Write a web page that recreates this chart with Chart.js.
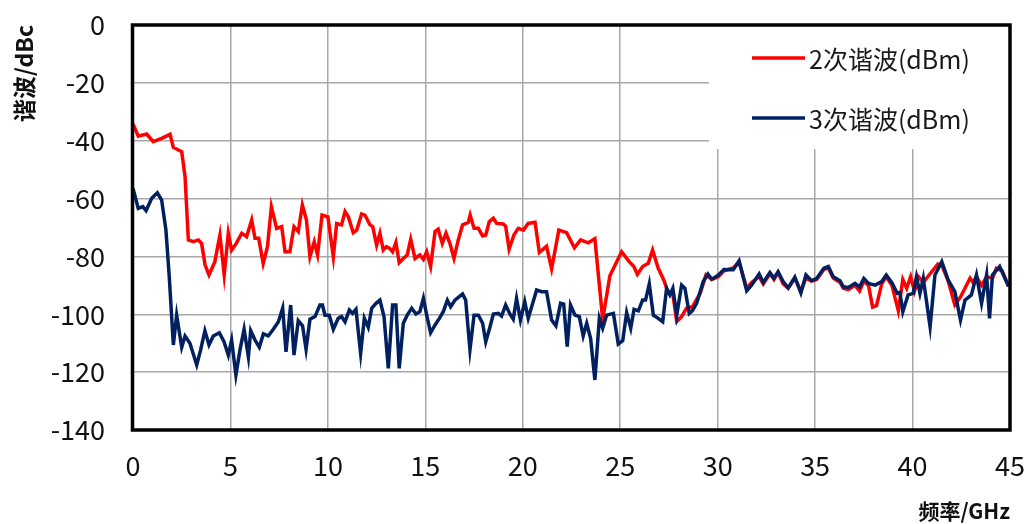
<!DOCTYPE html>
<html>
<head>
<meta charset="utf-8">
<script src="https://cdn.jsdelivr.net/npm/chart.js@4/dist/chart.umd.min.js"></script>
<style>
  html, body { margin: 0; padding: 0; background: #fff; }
  #wrap { width: 1029px; height: 524px; position: relative; }
</style>
</head>
<body>
<div id="wrap"><canvas id="c" width="1029" height="524"></canvas></div>
<script>
// ---- Data ----
const seriesLabels = ['2次谐波(dBm)', '3次谐波(dBm)'];
const xTitle = '频率/GHz';
const yTitle = '谐波/dBc';

const h2Freq = [0.0,0.27,0.7,1.04,1.47,1.9,2.07,2.33,2.5,2.67,2.84,3.1,3.35,3.52,3.7,3.9,4.2,4.46,4.68,4.89,
  5.06,5.3,5.58,5.83,6.09,6.26,6.45,6.68,6.9,7.1,7.37,7.63,7.8,8.05,8.26,8.48,8.69,8.9,9.08,9.3,
  9.47,9.7,10.0,10.28,10.45,10.7,10.88,11.05,11.3,11.48,11.73,11.9,12.16,12.3,12.5,12.67,12.84,13.0,13.17,13.32,
  13.49,13.66,13.87,14.07,14.25,14.47,14.72,14.9,15.07,15.27,15.5,15.66,15.87,16.06,16.26,16.47,16.69,16.91,17.2,17.3,
  17.5,17.72,17.94,18.1,18.28,18.49,18.66,19.0,19.12,19.3,19.55,19.77,20.03,20.28,20.63,20.85,21.22,21.48,21.85,22.25,
  22.65,22.97,23.36,23.7,23.93,24.1,24.47,24.82,25.07,25.46,25.7,25.88,26.15,26.44,26.66,26.95,27.24,27.47,27.7,27.9,
  28.15,28.4,28.7,29.1,29.4,29.7,30.03,30.32,30.8,31.1,31.49,31.74,32.13,32.34,32.68,32.89,33.1,33.36,33.62,33.96,
  34.27,34.53,34.82,35.08,35.45,35.68,35.93,36.28,36.45,36.7,37.05,37.28,37.5,37.74,37.95,38.15,38.42,38.65,38.94,39.27,
  39.5,39.7,39.9,40.1,40.3,40.55,40.9,41.3,41.5,41.83,42.17,42.46,42.69,42.95,43.1,43.28,43.54,43.8,44.1,44.3,
  44.6,44.9,45.0];
const h2Level = [-34.2,-38.4,-37.7,-40.3,-39.2,-37.8,-42.3,-43.2,-43.8,-52.4,-74.3,-74.9,-74.3,-75.5,-83,-86.4,-81.8,-72.6,-86.4,-72,
  -77.8,-75.5,-72,-73.2,-67.4,-73.7,-73.7,-82.4,-76.6,-62.8,-70.3,-69.7,-78.4,-78.4,-69.7,-71.4,-62.2,-67.4,-80.1,-74.9,
  -79.5,-65.7,-66.3,-80.1,-68.6,-69.1,-64.5,-66.3,-71.8,-70.9,-65.3,-65.7,-69.1,-69.7,-76.1,-72,-77.8,-76.6,-77.2,-78.4,
  -75.2,-82.2,-80.7,-79.5,-74.1,-80.7,-79.5,-81,-78.4,-83.5,-71.4,-70.6,-75.5,-72,-75.5,-80.7,-74.3,-69.1,-68.3,-65.7,
  -70.3,-70.3,-72.9,-72.6,-68,-66.8,-68.6,-68.8,-69.5,-77.5,-72.5,-70.3,-70.9,-68.6,-68.2,-78.6,-76.5,-84.3,-70.9,-71.8,
  -77,-74.3,-75.3,-73.9,-89.9,-101.8,-86.7,-81.8,-78.4,-81.8,-83.5,-86.2,-83.5,-82.4,-77.8,-84.1,-88.2,-92.8,-93,-102.5,
  -100.8,-97.9,-97.4,-92.8,-86.4,-88,-87,-85,-84,-82,-91,-89,-87,-89.5,-86,-88,-85.5,-89.5,-91,-87.5,
  -92,-87.5,-88.5,-88,-84.5,-84,-87.5,-89,-91,-91.5,-90,-92,-88.5,-90,-97.5,-97,-89.5,-87,-90,-98.8,
  -88,-91,-87,-92,-87,-89,-86,-82.6,-83,-88.5,-96.8,-94,-91,-87.5,-89,-87,-90,-87,-87.5,-84.1,
  -85,-90,-90];

const h3Freq = [0.0,0.27,0.5,0.67,0.96,1.25,1.47,1.69,1.86,2.07,2.24,2.5,2.67,2.92,3.27,3.47,3.69,3.9,4.12,4.43,
  4.67,4.89,5.06,5.28,5.49,5.7,5.92,6.04,6.26,6.48,6.69,6.94,7.2,7.46,7.68,7.85,8.09,8.26,8.48,8.7,
  8.88,9.08,9.34,9.59,9.72,9.85,10.07,10.28,10.53,10.7,10.88,11.1,11.27,11.44,11.68,11.87,12.07,12.25,12.47,12.67,
  12.88,13.1,13.32,13.49,13.66,13.87,14.07,14.3,14.52,14.72,14.9,15.07,15.27,15.5,15.72,15.92,16.13,16.3,16.52,16.74,
  16.91,17.07,17.29,17.5,17.72,17.94,18.1,18.32,18.49,18.75,18.91,19.12,19.34,19.51,19.68,19.88,20.1,20.28,20.71,20.97,
  21.22,21.48,21.7,21.94,22.1,22.28,22.45,22.68,22.9,23.1,23.28,23.48,23.7,23.93,24.1,24.3,24.65,24.9,25.13,25.33,
  25.54,25.71,25.93,26.15,26.3,26.49,26.7,26.95,27.18,27.38,27.55,27.7,27.9,28.15,28.32,28.54,28.7,28.92,29.26,29.5,
  29.7,30.03,30.32,30.8,31.1,31.49,31.74,32.13,32.34,32.68,32.89,33.1,33.36,33.62,33.96,34.27,34.53,34.82,35.08,35.45,
  35.68,35.93,36.28,36.45,36.7,37.05,37.28,37.5,37.74,38.08,38.42,38.65,38.94,39.22,39.35,39.5,39.77,40.03,40.2,40.38,
  40.55,40.9,41.15,41.5,41.83,42.17,42.46,42.69,43.02,43.28,43.54,43.8,43.95,44.1,44.47,44.9,45.0];
const h3Level = [-56.5,-63.4,-62.8,-64.2,-59.9,-58,-60.5,-70.9,-87,-110.6,-100.3,-111.4,-107.5,-110,-117.5,-112.3,-105.7,-110.6,-107.5,-106.4,
  -109.5,-114.1,-108.9,-121,-112.3,-105.2,-114.7,-105.7,-108.9,-111.4,-106.8,-107.5,-105.2,-102.6,-97.9,-113,-96.8,-114.1,-102.2,-104,
  -112.1,-101.7,-100.8,-96.8,-96.8,-100.3,-100.3,-105.2,-101.4,-100.8,-102.6,-98.5,-99.7,-98.3,-113.5,-101.4,-104.5,-97.9,-96.2,-95.1,
  -100.8,-118.7,-96.8,-96.8,-118.7,-103.1,-100.3,-97.9,-99.9,-99.1,-94.5,-100.3,-106.4,-103.7,-101.4,-99.1,-95.1,-97.4,-95.1,-93.9,
  -93,-95.1,-112.3,-100.3,-100.3,-103.1,-109.5,-104.3,-99.9,-99.7,-100.6,-96.8,-99.9,-101.7,-94.5,-102,-95.6,-101.4,-91.6,-92.2,
  -92.2,-102,-104,-96.2,-96.5,-111.2,-96.8,-100.3,-100.8,-107.5,-103.1,-108.3,-122.7,-101.4,-104.8,-100.3,-99.7,-110.3,-109.1,-99.4,
  -104.8,-98.3,-98.8,-95.1,-95.1,-89.5,-100.3,-101.4,-102.6,-91,-93.3,-91,-100.3,-89.9,-91,-99.7,-98.8,-96.2,-88.7,-86.1,
  -87.9,-86.5,-84.5,-84.6,-81.5,-91.9,-89.9,-86.1,-89,-85.6,-87.5,-85.3,-88.7,-90.9,-87.2,-92.6,-86.4,-88.4,-87.6,-84.1,
  -83.5,-87,-88.4,-90.5,-90.7,-89.3,-90.5,-87.6,-89.3,-89.9,-88.7,-86.4,-89.1,-92.8,-92.5,-99.1,-93.3,-92.8,-87,-92.8,
  -87.6,-104.3,-86.4,-81.8,-88.2,-92.2,-102,-95.1,-93.3,-86.4,-96.2,-86.4,-101.4,-86.4,-83.5,-89.9,-90];

const xTicks = [0,5,10,15,20,25,30,35,40,45];
const yTicks = [0,-20,-40,-60,-80,-100,-120,-140];
const seriesColors = ['#FF0000', '#002060'];

// ---- helpers ----
const toPoints = (fs, vs) => fs.map((f, i) => ({x: f, y: vs[i]}));
const CJK = '"Noto Sans CJK SC", "Noto Sans", sans-serif';
const noOverhang = s => { s.paddingTop = 0; s.paddingBottom = 0; s.paddingLeft = 0; s.paddingRight = 0; };

const legendInside = {
  id: 'legendInside',
  afterDatasetsDraw(chart) {
    const ctx = chart.ctx;
    const a = chart.chartArea;
    ctx.save();
    ctx.fillStyle = '#ffffff';
    ctx.fillRect(709, a.top + 1, a.right - 709, 123);
    const rows = [58, 118];
    chart.data.datasets.forEach((ds, i) => {
      const y = rows[i];
      ctx.strokeStyle = ds.borderColor;
      ctx.lineWidth = 3.5;
      ctx.beginPath();
      ctx.moveTo(752, y);
      ctx.lineTo(805, y);
      ctx.stroke();
      ctx.fillStyle = '#1a1a1a';
      ctx.font = '25px ' + CJK;
      ctx.textBaseline = 'middle';
      ctx.textAlign = 'left';
      ctx.fillText(ds.label, 809, y + 1);
    });
    ctx.restore();
  },
  afterDraw(chart) {
    const ctx = chart.ctx;
    const a = chart.chartArea;
    ctx.save();
    ctx.strokeStyle = '#000';
    ctx.lineWidth = 3.5;
    ctx.strokeRect(a.left - 0.5, a.top, a.right - a.left + 0.5, a.bottom - a.top);
    ctx.restore();
  }
};

new Chart(document.getElementById('c'), {
  type: 'line',
  data: {
    datasets: [
      { label: seriesLabels[0], data: toPoints(h2Freq, h2Level), borderColor: seriesColors[0],
        backgroundColor: seriesColors[0], borderWidth: 3.5, pointRadius: 0, tension: 0, order: 1 },
      { label: seriesLabels[1], data: toPoints(h3Freq, h3Level), borderColor: seriesColors[1],
        backgroundColor: seriesColors[1], borderWidth: 3.5, pointRadius: 0, tension: 0, order: 0 }
    ]
  },
  options: {
    responsive: false,
    animation: false,
    devicePixelRatio: 1,
    layout: { padding: { left: 0, right: 19, top: 25, bottom: 0 } },
    plugins: { legend: { display: false }, tooltip: { enabled: false } },
    scales: {
      x: {
        type: 'linear', min: 0, max: 45,
        afterBuildTicks: s => { s.ticks = xTicks.map(v => ({value: v})); },
        afterFit: s => { s.height = 94; noOverhang(s); },
        grid: { color: '#a8a8a8', lineWidth: 1.5, drawTicks: false },
        border: { display: false },
        ticks: { font: { size: 27, family: CJK }, color: '#111', padding: 20, maxRotation: 0 },
        title: { display: true, text: xTitle, align: 'end', color: '#111',
                 font: { size: 21, weight: 'bold', family: CJK }, padding: { top: 0, bottom: 0 } }
      },
      y: {
        min: -140, max: 0,
        afterBuildTicks: s => { s.ticks = yTicks.map(v => ({value: v})); },
        afterFit: s => { s.width = 133; noOverhang(s); },
        grid: { color: '#a8a8a8', lineWidth: 1.5, drawTicks: false },
        border: { display: false },
        ticks: { font: { size: 27, family: CJK }, color: '#111', padding: 28 },
        title: { display: true, text: yTitle, align: 'end', color: '#111',
                 font: { size: 23, weight: 'bold', family: CJK }, padding: { top: 10, bottom: 0 } }
      }
    }
  },
  plugins: [legendInside]
});
</script>
</body>
</html>
